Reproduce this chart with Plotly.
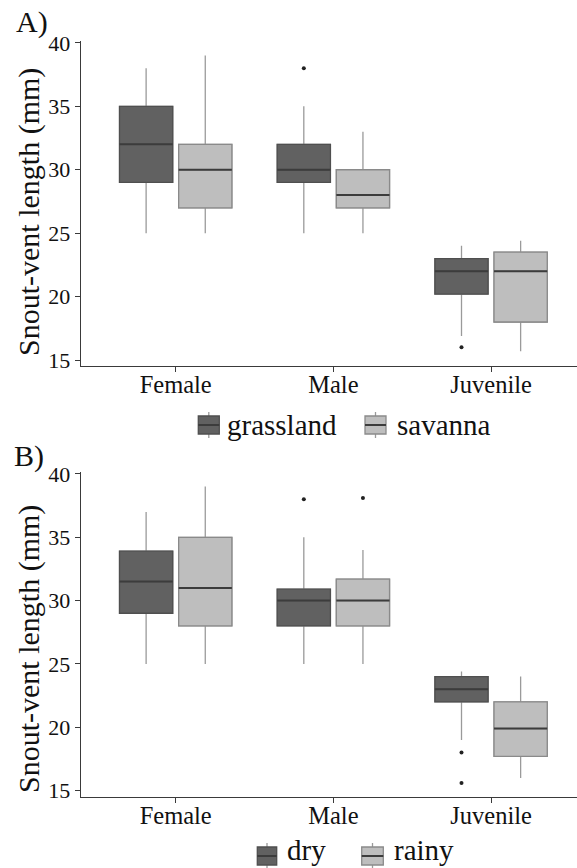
import plotly.graph_objects as go

W, H = 577, 868
FONT = "Liberation Serif"

categories = ["Female", "Male", "Juvenile"]
y_ticks = [15, 20, 25, 30, 35, 40]

# Panel A: habitat
grass_lo = [25, 25, 16.9]
grass_q1 = [29, 29, 20.2]
grass_med = [32, 30, 22]
grass_q3 = [35, 32, 23]
grass_hi = [38, 35, 24]
grass_out_cat = [1, 2]
grass_out_val = [38, 16]

sav_lo = [25, 25, 15.7]
sav_q1 = [27, 27, 18]
sav_med = [30, 28, 22]
sav_q3 = [32, 30, 23.5]
sav_hi = [39, 33, 24.4]
sav_out_cat = []
sav_out_val = []

# Panel B: season
dry_lo = [25, 25, 19]
dry_q1 = [29, 28, 22]
dry_med = [31.5, 30, 23]
dry_q3 = [33.9, 30.9, 24]
dry_hi = [37, 35, 24.4]
dry_out_cat = [1, 2, 2]
dry_out_val = [38, 18, 15.6]

rainy_lo = [25, 25, 16]
rainy_q1 = [28, 28, 17.7]
rainy_med = [31, 30, 19.9]
rainy_q3 = [35, 31.7, 22]
rainy_hi = [39, 34, 24]
rainy_out_cat = [1]
rainy_out_val = [38.1]

DARK_FILL, DARK_LINE = "#616161", "#4f4f4f"
LIGHT_FILL, LIGHT_LINE = "#bebebe", "#8a8a8a"
WHISK = "#9a9a9a"
MED = "#3c3c3c"
DODGE = 0.1875
BW = 0.3375


def px_x(p):
    return p / W


def px_y(p):
    return 1 - p / H


fig = go.Figure()


def add_group(lo, q1, med, q3, hi, out_cat, out_val, offset, fill, line, xa, ya):
    xs = [i + offset for i in range(len(categories))]
    fig.add_trace(go.Box(x=xs, lowerfence=lo, q1=q1, median=med, q3=q3, upperfence=hi,
                         width=BW, whiskerwidth=0, fillcolor=fill,
                         line=dict(color=WHISK, width=1.3), xaxis=xa, yaxis=ya,
                         showlegend=False, hoverinfo="skip"))
    fig.add_trace(go.Box(x=xs, lowerfence=q1, q1=q1, median=med, q3=q3, upperfence=q3,
                         width=BW, whiskerwidth=0, fillcolor=fill,
                         line=dict(color=line, width=1.3), xaxis=xa, yaxis=ya,
                         showlegend=False, hoverinfo="skip"))
    fig.add_trace(go.Box(x=xs, lowerfence=med, q1=med, median=med, q3=med, upperfence=med,
                         width=BW, whiskerwidth=0, fillcolor="rgba(0,0,0,0)",
                         line=dict(color=MED, width=2), xaxis=xa, yaxis=ya,
                         showlegend=False, hoverinfo="skip"))
    if out_val:
        fig.add_trace(go.Scatter(x=[c + offset for c in out_cat], y=out_val, mode="markers",
                                 marker=dict(color="#222", size=4), xaxis=xa, yaxis=ya,
                                 showlegend=False, hoverinfo="skip"))


add_group(grass_lo, grass_q1, grass_med, grass_q3, grass_hi, grass_out_cat, grass_out_val,
          -DODGE, DARK_FILL, DARK_LINE, "x", "y")
add_group(sav_lo, sav_q1, sav_med, sav_q3, sav_hi, sav_out_cat, sav_out_val,
          DODGE, LIGHT_FILL, LIGHT_LINE, "x", "y")
add_group(dry_lo, dry_q1, dry_med, dry_q3, dry_hi, dry_out_cat, dry_out_val,
          -DODGE, DARK_FILL, DARK_LINE, "x2", "y2")
add_group(rainy_lo, rainy_q1, rainy_med, rainy_q3, rainy_hi, rainy_out_cat, rainy_out_val,
          DODGE, LIGHT_FILL, LIGHT_LINE, "x2", "y2")

AX_COL = "#3a3a3a"
xcommon = dict(tickmode="array", tickvals=list(range(len(categories))), ticktext=categories,
               range=[-0.6024, 2.545], showline=True, linecolor=AX_COL, linewidth=1.3,
               ticks="outside", ticklen=5, tickcolor=AX_COL, showgrid=False, zeroline=False,
               automargin=False, ticklabelstandoff=-9,
               tickfont=dict(family=FONT, size=24.5, color="#111"), domain=[px_x(80.7), 1])
ycommon = dict(tickmode="array", tickvals=y_ticks, showline=True, linecolor=AX_COL, linewidth=1.3,
               ticks="outside", ticklen=5, tickcolor=AX_COL, showgrid=False, zeroline=False,
               automargin=False,
               tickfont=dict(family=FONT, size=22, color="#111"))

fig.update_layout(
    template="none",
    width=W, height=H, margin=dict(l=0, r=0, t=0, b=0, pad=0),
    paper_bgcolor="white", plot_bgcolor="white", boxmode="overlay",
    xaxis=dict(**xcommon, anchor="y"),
    yaxis=dict(**ycommon, anchor="x", range=[14.53, 40.17], domain=[px_y(366), px_y(40.7)]),
    xaxis2=dict(**xcommon, anchor="y2"),
    yaxis2=dict(**ycommon, anchor="x2", range=[14.47, 40.17], domain=[px_y(797.3), px_y(471.8)]),
    font=dict(family=FONT, color="#111"),
)

ann = []
shapes = []
ann.append(dict(text="A)", x=px_x(14), y=px_y(22), xref="paper", yref="paper",
                xanchor="left", yanchor="middle", showarrow=False, font=dict(family=FONT, size=30)))
ann.append(dict(text="B)", x=px_x(12), y=px_y(456), xref="paper", yref="paper",
                xanchor="left", yanchor="middle", showarrow=False, font=dict(family=FONT, size=30)))
for yc in (212, 649):
    ann.append(dict(text="Snout-vent length (mm)", x=px_x(29), y=px_y(yc), xref="paper", yref="paper",
                    xanchor="center", yanchor="middle", textangle=-90, showarrow=False,
                    font=dict(family=FONT, size=30)))


def legend_key(x0, x1, yc, fill, line, label, tx, bottom=False):
    y0, y1 = yc - 9, yc + 9
    xc = (x0 + x1) / 2
    shapes.append(dict(type="line", xref="paper", yref="paper", x0=px_x(xc), x1=px_x(xc),
                       y0=px_y(yc - 13), y1=px_y(yc + 13), line=dict(color=WHISK, width=1.3)))
    shapes.append(dict(type="rect", xref="paper", yref="paper", x0=px_x(x0), x1=px_x(x1),
                       y0=px_y(y1), y1=px_y(y0), fillcolor=fill, line=dict(color=line, width=1.3)))
    shapes.append(dict(type="line", xref="paper", yref="paper", x0=px_x(x0), x1=px_x(x1),
                       y0=px_y(yc), y1=px_y(yc), line=dict(color=MED, width=2)))
    if bottom:
        ann.append(dict(text=label, x=px_x(tx), y=0, xref="paper", yref="paper",
                        xanchor="left", yanchor="bottom", showarrow=False,
                        font=dict(family=FONT, size=29)))
    else:
        ann.append(dict(text=label, x=px_x(tx), y=px_y(yc), xref="paper", yref="paper",
                        xanchor="left", yanchor="middle", showarrow=False,
                        font=dict(family=FONT, size=29)))


legend_key(198.3, 219.3, 425, DARK_FILL, DARK_LINE, "grassland", 225)
legend_key(365, 386, 425, LIGHT_FILL, LIGHT_LINE, "savanna", 395)
legend_key(257.3, 276.7, 856, DARK_FILL, DARK_LINE, "dry", 285, bottom=True)
legend_key(361.7, 383.3, 856, LIGHT_FILL, LIGHT_LINE, "rainy", 392, bottom=True)

fig.update_layout(annotations=ann, shapes=shapes)
fig.write_html("out.html")
